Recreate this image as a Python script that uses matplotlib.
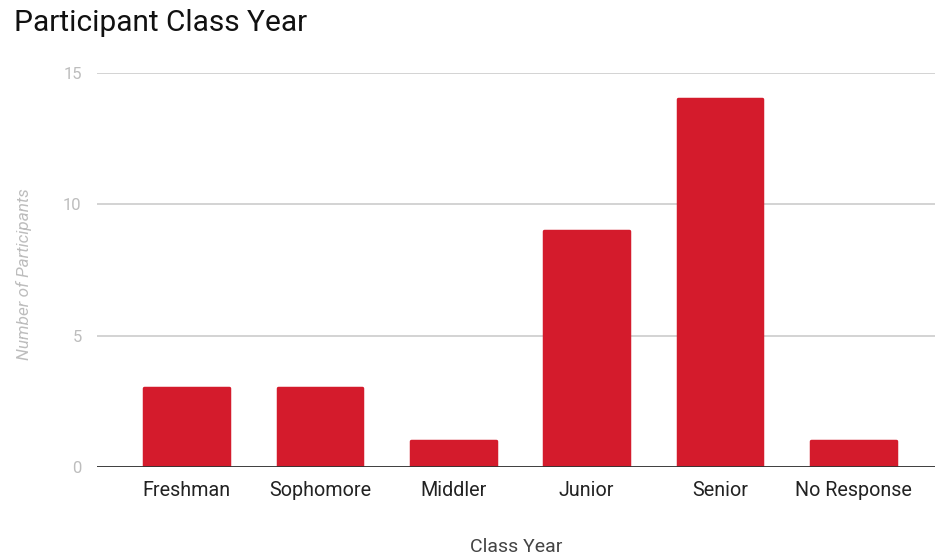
import matplotlib
matplotlib.use("Agg")
import matplotlib.pyplot as plt

# Survey counts by class year
categories = ["Freshman", "Sophomore", "Middler", "Junior", "Senior", "No Response"]
participants = [3, 3, 1, 9, 14, 1]
y_ticks = [0, 5, 10, 15]

plt.rcParams["font.family"] = ["Roboto", "DejaVu Sans"]

fig = plt.figure(figsize=(9.37, 5.56), dpi=100)
ax = fig.add_axes([0.1035, 0.160, 0.8945, 0.7087])

x = list(range(len(categories)))
bars = ax.bar(x, participants, width=0.635, color="#d41b2c", zorder=3,
              edgecolor="#d41b2c", linewidth=2.5)
for b in bars:
    b.set_joinstyle("round")  # softened corners

ax.set_xlim(-0.671, 5.612)
ax.set_ylim(0, 15)
ax.set_yticks(y_ticks)
ax.set_xticks(x)
ax.set_xticklabels(categories, fontsize=14.2, color="#222222")
ax.tick_params(axis="y", labelsize=12, labelcolor="#bdbdbd", length=0, pad=11)
ax.tick_params(axis="x", length=0, pad=10)

# light horizontal grid, darker baseline
ax.grid(axis="y", color="#cccccc", linewidth=1.2, zorder=0)
for side in ["top", "right", "left", "bottom"]:
    ax.spines[side].set_visible(False)
ax.axhline(0, color="#333333", linewidth=1.3, zorder=4)

ax.set_xlabel("Class Year", fontsize=14, color="#444444")
ax.xaxis.set_label_coords(0.5, -0.18)
ax.set_ylabel("Number of Participants", fontsize=12.3, color="#bdbdbd", style="italic")
ax.yaxis.set_label_coords(-0.078, 0.49)

fig.text(0.015, 0.958, "Participant Class Year", fontsize=21.5, color="#111111", va="center", ha="left")

fig.savefig("out.png", dpi=100)
